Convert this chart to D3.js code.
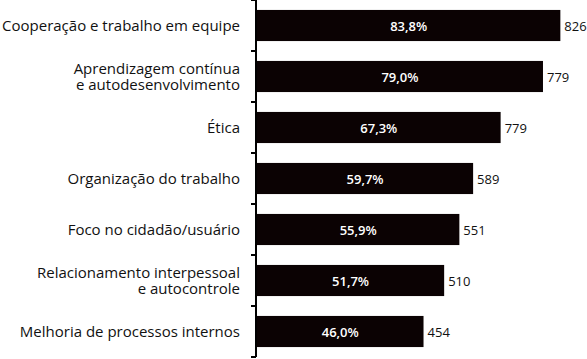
<!DOCTYPE html>
<html>
<head>
<meta charset="utf-8">
<script src="https://cdn.jsdelivr.net/npm/d3@7"></script>
<style>
    body { margin: 0; background: #fff; }
    svg { display: block; font-family: "Open Sans", "Noto Sans", sans-serif; }
</style>
</head>
<body>
<svg id="bar-chart" width="587" height="359"></svg>
<script>
const categories = [
    "Cooperação e trabalho em equipe",
    "Aprendizagem contínua\ne autodesenvolvimento",
    "Ética",
    "Organização do trabalho",
    "Foco no cidadão/usuário",
    "Relacionamento interpessoal\ne autocontrole",
    "Melhoria de processos internos"
];

const percents = [83.8, 79.0, 67.3, 59.7, 55.9, 51.7, 46.0];

const counts = [826, 779, 779, 589, 551, 510, 454];

const barColor = "#0b0203";

const axisX = 256;

const svg = d3.select("#bar-chart");

// pt-BR style numbers: 83,8%
const ptBR = d3.formatLocale({ decimal: ",", thousands: ".", grouping: [3], currency: ["R$", ""] });
const formatPercent = ptBR.format(".1f");

const data = categories.map(function (c, i) {
    return { category: c, percent: percents[i], count: counts[i] };
});

const xScale = d3.scaleLinear()
    .domain([0, 100])
    .range([axisX + 1, axisX + 363]);

const yScale = d3.scaleBand()
    .domain(categories)
    .range([0, 357])
    .paddingInner(0.39)
    .paddingOuter(0.195);

// bars
svg.selectAll(".bar")
    .data(data)
    .join("rect")
    .attr("class", "bar")
    .attr("x", xScale(0))
    .attr("y", function (d) { return yScale(d.category); })
    .attr("width", function (d) { return xScale(d.percent) - xScale(0); })
    .attr("height", yScale.bandwidth())
    .attr("fill", barColor);

// percent labels inside bars
svg.selectAll(".pct-label")
    .data(data)
    .join("text")
    .attr("class", "pct-label")
    .attr("x", function (d) { return (xScale(0) + xScale(d.percent)) / 2; })
    .attr("y", function (d) { return yScale(d.category) + yScale.bandwidth() / 2 + 5; })
    .attr("text-anchor", "middle")
    .attr("fill", "#fff")
    .attr("font-size", 13)
    .attr("font-weight", 600)
    .text(function (d) { return formatPercent(d.percent) + "%"; });

// counts at the end of bars
svg.selectAll(".count-label")
    .data(data)
    .join("text")
    .attr("class", "count-label")
    .attr("x", function (d) { return xScale(d.percent) + 4; })
    .attr("y", function (d) { return yScale(d.category) + yScale.bandwidth() / 2 + 5; })
    .attr("fill", "#111")
    .attr("font-size", 13)
    .text(function (d) { return d.count; });

// category labels, one or two lines
const labels = svg.selectAll(".cat-label")
    .data(data)
    .join("text")
    .attr("class", "cat-label")
    .attr("text-anchor", "end")
    .attr("fill", "#111")
    .attr("font-size", 15);

labels.each(function (d) {
    const lines = d.category.split("\n");
    const center = yScale(d.category) + yScale.bandwidth() / 2;
    const lineHeight = 16;
    const first = center + 5.5 - (lines.length - 1) * lineHeight / 2;
    d3.select(this).selectAll("tspan")
        .data(lines)
        .join("tspan")
        .attr("x", axisX - 16)
        .attr("y", function (l, i) { return first + i * lineHeight; })
        .text(function (l) { return l; });
});

// vertical axis with ticks on band boundaries
const axis = svg.append("g").attr("class", "axis");
const step = yScale.step();
const axisTop = yScale.range()[0];

axis.append("line")
    .attr("x1", axisX).attr("x2", axisX)
    .attr("y1", axisTop).attr("y2", axisTop + step * categories.length)
    .attr("stroke", "#000")
    .attr("stroke-width", 2);

axis.selectAll(".tick")
    .data(d3.range(categories.length + 1))
    .join("line")
    .attr("class", "tick")
    .attr("x1", axisX - 5).attr("x2", axisX)
    .attr("y1", function (i) { return axisTop + i * step; })
    .attr("y2", function (i) { return axisTop + i * step; })
    .attr("stroke", "#000")
    .attr("stroke-width", 2);
</script>
</body>
</html>
